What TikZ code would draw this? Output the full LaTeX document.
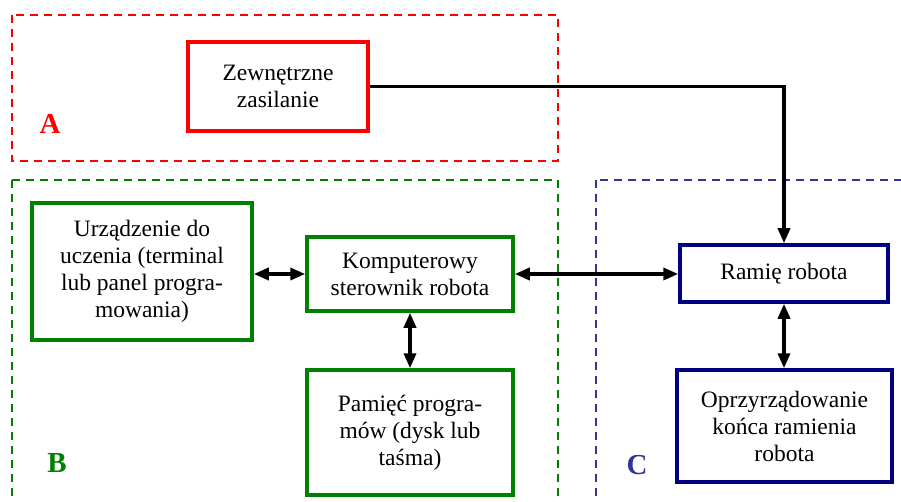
\documentclass[tikz,border=0pt]{standalone}
\usepackage{fontspec}
\setmainfont{Liberation Serif}
\usetikzlibrary{arrows.meta}

\definecolor{darkgreen}{HTML}{008000}
\definecolor{navyblue}{HTML}{000080}
\definecolor{groupblue}{HTML}{333399}

\begin{document}
\begin{tikzpicture}[x=1pt, y=-1pt,
	every node/.style={font=\fontsize{23.5pt}{27pt}\selectfont, align=center, inner sep=0pt},
	block/.style={draw, line width=3.5pt, fill=white},
	redblock/.style={block, draw=red},
	greenblock/.style={block, draw=darkgreen},
	blueblock/.style={block, draw=navyblue},
	group/.style={dashed, line width=2pt, dash pattern=on 8pt off 6pt},
	grouplabel/.style={font=\fontsize{29pt}{30pt}\selectfont\bfseries},
	link/.style={line width=3.5pt, {Triangle[length=15pt,width=12pt]}-{Triangle[length=15pt,width=12pt]}},
	feed/.style={line width=3.5pt, -{Triangle[length=15pt,width=12pt]}},]

\useasboundingbox (0,0) rectangle (901,502);

% groups
\draw[group, red] (12,15) rectangle (558,161);
\draw[group, darkgreen] (12,180) rectangle (558,520);
\draw[group, groupblue] (596,180) rectangle (920,520);
\node[grouplabel, red] (labelA) at (50,124) {A};
\node[grouplabel, darkgreen] (labelB) at (57,463) {B};
\node[grouplabel, groupblue] (labelC) at (637,465) {C};

% blocks
\node[redblock, minimum width=180pt, minimum height=89pt] (zasilanie) at (278,86.5) {Zewnętrzne\\zasilanie};
\node[greenblock, minimum width=220pt, minimum height=137pt] (uczenie) at (142,271.5) {Urządzenie do\\uczenia (terminal\\lub panel progra-\\mowania)};
\node[greenblock, minimum width=206pt, minimum height=74pt] (sterownik) at (410,274) {Komputerowy\\sterownik robota};
\node[greenblock, minimum width=206pt, minimum height=125pt] (pamiec) at (410,432.5) {Pamięć progra-\\mów (dysk lub\\taśma)};
\node[blueblock, minimum width=208pt, minimum height=57pt] (ramie) at (784,273.5) {Ramię robota};
\node[blueblock, minimum width=215pt, minimum height=112pt] (oprzyrzadowanie) at (784.5,426) {Oprzyrządowanie\\końca ramienia\\robota};

% connections
\draw[link] (uczenie.east |- sterownik.west) -- (sterownik.west);
\draw[link] (sterownik.east) -- (sterownik.east -| ramie.west);
\draw[link] (sterownik.south) -- (pamiec.north);
\draw[link] (ramie.south) -- (ramie.south |- oprzyrzadowanie.north);
\draw[feed] (zasilanie.east) -| (ramie.north);
\end{tikzpicture}
\end{document}
